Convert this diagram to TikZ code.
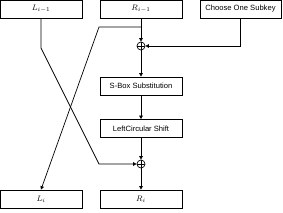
\documentclass[tikz,border=0pt]{standalone}
\usepackage{fontspec}
\setsansfont{Liberation Sans}
\usetikzlibrary{arrows.meta, positioning, calc}

\tikzset{
    blk/.style={draw, line width=0.7pt, minimum width=82pt, minimum height=18pt,
        inner sep=0pt, font=\sffamily\fontsize{7.6}{8}\selectfont},
    xorop/.style={draw, circle, line width=0.7pt, minimum size=8pt, inner sep=0pt,
        path picture={\draw[line width=0.7pt] (path picture bounding box.north) -- (path picture bounding box.south)
            (path picture bounding box.west) -- (path picture bounding box.east);}},
    arr/.style={line width=0.7pt, -{Triangle[length=3.5pt,width=3.5pt]}},
    ln/.style={line width=0.7pt}
}

\begin{document}
\begin{tikzpicture}[x=1pt, y=-1pt]
            \useasboundingbox (0,0) rectangle (283,213);

            % 输入
            \node[blk, font=\fontsize{8.5}{9}\selectfont] (Lprev) at (41,9) {$L_{i-1}$};
            \node[blk, font=\fontsize{8.5}{9}\selectfont] (Rprev) at (141,9) {$R_{i-1}$};
            \node[blk, minimum width=81pt] (key) at (240.5,9) {Choose One Subkey};

            % 轮函数
            \node[xorop] (xa) at (141,46) {};
            \node[blk] (sbox) at (141,86) {S-Box Substitution};
            \node[blk] (shift) at (141,128.5) {LeftCircular Shift};
            \node[xorop] (xb) at (141,164) {};

            % 输出
            \node[blk, font=\fontsize{8.5}{9}\selectfont] (Lnext) at (41,199) {$L_i$};
            \node[blk, font=\fontsize{8.5}{9}\selectfont] (Rnext) at (141,199) {$R_i$};

            % 拐点
            \coordinate (split) at (141,27);
            \coordinate (rbend) at (99,27);
            \coordinate (lbend) at (41,48);
            \coordinate (lturn) at (99,164);

            % 连线
            \draw[arr] (Rprev.south) -- (xa.north);
            \draw[arr] (split) -- (rbend) -- (Lnext.north);
            \draw[arr] (key.south) |- (xa.east);
            \draw[arr] (xa.south) -- (sbox.north);
            \draw[arr] (sbox.south) -- (shift.north);
            \draw[arr] (shift.south) -- (xb.north);
            \draw[arr] (Lprev.south) -- (lbend) -- (lturn) -- (xb.west);
            \draw[arr] (xb.south) -- (Rnext.north);
        \end{tikzpicture}
\end{document}
